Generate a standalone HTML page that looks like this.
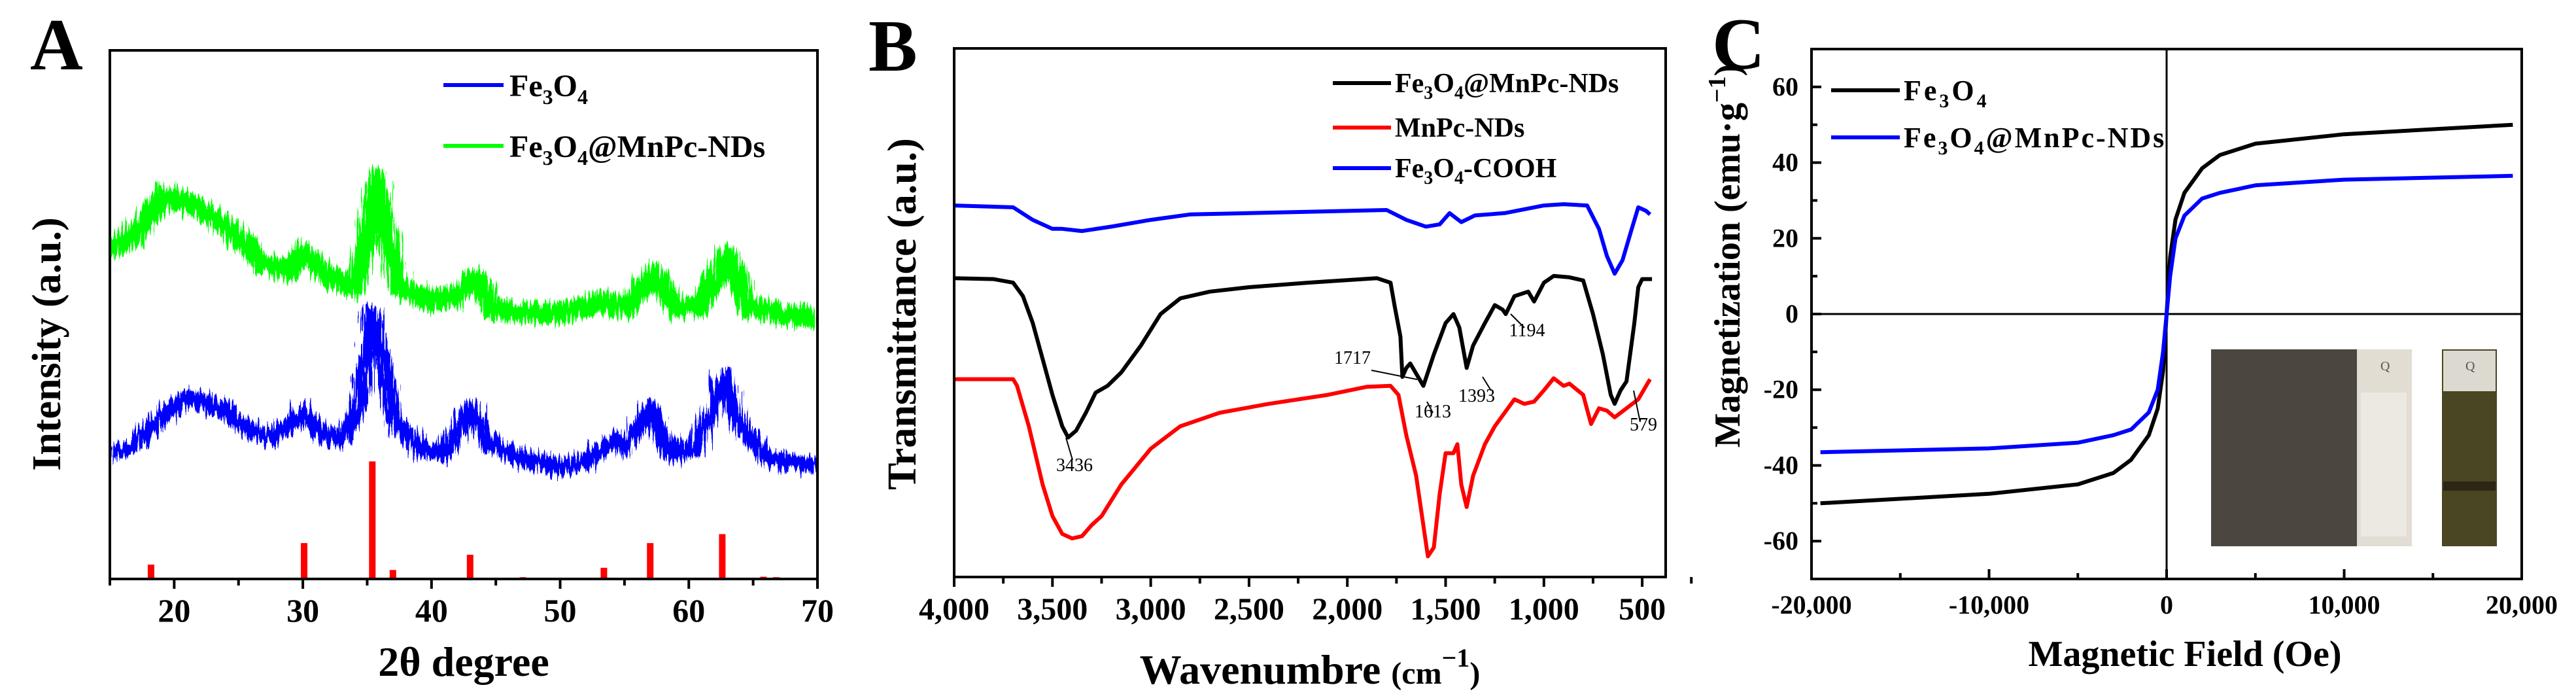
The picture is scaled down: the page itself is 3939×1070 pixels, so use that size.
<!DOCTYPE html>
<html><head><meta charset="utf-8"><style>
html,body{margin:0;padding:0;background:#fff;}
svg{display:block;font-family:"Liberation Serif",serif;font-weight:bold;}
</style></head><body>
<svg id="fig" width="3939" height="1070" viewBox="0 0 3939 1070" xmlns="http://www.w3.org/2000/svg">
<defs>
<filter id="noisy" x="-5%" y="-20%" width="110%" height="140%">
<feTurbulence type="fractalNoise" baseFrequency="0.35 0.02" numOctaves="2" seed="3" result="n"/>
<feDisplacementMap in="SourceGraphic" in2="n" scale="40" xChannelSelector="R" yChannelSelector="G"/>
</filter>
</defs>
<rect width="3939" height="1070" fill="#fff"/>
<g>
<text x="46" y="106" font-size="112">A</text>
<text transform="translate(92,526) rotate(-90)" text-anchor="middle" font-size="62">Intensity (a.u.)</text>
<text x="709" y="1033" text-anchor="middle" font-size="64">2θ degree</text>
<line x1="678" y1="130" x2="770" y2="130" stroke="#0000ff" stroke-width="6"/>
<text x="779" y="147" font-size="48">Fe<tspan font-size="32" dy="12">3</tspan><tspan dy="-12">O</tspan><tspan font-size="32" dy="12">4</tspan></text>
<line x1="678" y1="223" x2="770" y2="223" stroke="#00ff00" stroke-width="6"/>
<text x="779" y="240" font-size="48">Fe<tspan font-size="32" dy="12">3</tspan><tspan dy="-12">O</tspan><tspan font-size="32" dy="12">4</tspan><tspan dy="-12">@MnPc-NDs</tspan></text>
</g>
<g>
<text x="1328" y="108" font-size="112">B</text>
<text transform="translate(1400,480) rotate(-90)" text-anchor="middle" font-size="62">Transmittance (a.u.)</text>
<text x="2003" y="1045" text-anchor="middle" font-size="64">Wavenumbre <tspan font-size="48">(cm</tspan><tspan font-size="40" dy="-26">−1</tspan><tspan font-size="48" dy="26">)</tspan></text>
<line x1="2038" y1="127" x2="2127" y2="127" stroke="#000" stroke-width="6"/>
<text x="2133" y="141" font-size="42">Fe<tspan font-size="28" dy="10">3</tspan><tspan dy="-10">O</tspan><tspan font-size="28" dy="10">4</tspan><tspan dy="-10">@MnPc-NDs</tspan></text>
<line x1="2038" y1="195" x2="2127" y2="195" stroke="#ff0000" stroke-width="6"/>
<text x="2133" y="209" font-size="42">MnPc-NDs</text>
<line x1="2038" y1="257" x2="2127" y2="257" stroke="#0000ff" stroke-width="6"/>
<text x="2133" y="271" font-size="42">Fe<tspan font-size="28" dy="10">3</tspan><tspan dy="-10">O</tspan><tspan font-size="28" dy="10">4</tspan><tspan dy="-10">-COOH</tspan></text>
</g>
<g>
<text x="2618" y="105" font-size="112">C</text>
<text transform="translate(2660,391) rotate(-90)" text-anchor="middle" font-size="56">Magnetization (emu·g<tspan font-size="38" dy="-22">−1</tspan><tspan dy="22">)</tspan></text>
<text x="3341" y="1018" text-anchor="middle" font-size="56">Magnetic Field (Oe)</text>
<g>
<rect x="3381" y="534" width="223" height="301" fill="#4b4640"/>
<rect x="3604" y="534" width="84" height="301" fill="#e2ddd3"/>
<rect x="3610" y="600" width="70" height="220" fill="#ebe9e2"/>
<rect x="3734" y="534" width="84" height="301" fill="#4a4522"/>
<rect x="3736" y="536" width="80" height="62" fill="#dcd9d0"/>
<rect x="3736" y="736" width="80" height="14" fill="#2a2714"/>
<text x="3640" y="566" font-size="20" font-weight="normal" fill="#555">Q</text>
<text x="3770" y="566" font-size="20" font-weight="normal" fill="#555">Q</text>
</g>
<line x1="2800" y1="138" x2="2905" y2="138" stroke="#000" stroke-width="6"/>
<text x="2911" y="153" font-size="44" letter-spacing="4">Fe<tspan font-size="30" dy="11">3</tspan><tspan dy="-11">O</tspan><tspan font-size="30" dy="11">4</tspan></text>
<line x1="2800" y1="210" x2="2905" y2="210" stroke="#0000ff" stroke-width="6"/>
<text x="2911" y="225" font-size="44" letter-spacing="3">Fe<tspan font-size="30" dy="11">3</tspan><tspan dy="-11">O</tspan><tspan font-size="30" dy="11">4</tspan><tspan dy="-11">@MnPc-NDs</tspan></text>
</g>
</svg>
<script>
// ---------- Panel A data (XRD) ----------
const aGreenX = [15,17,19,21,23,25,27,29,30,32,34,35,35.8,36.5,37.5,40,42,43.3,45,50,53.5,55,57.3,59,61,63,64.5,67,70];
const aGreenY = [1040,1080,1160,1150,1120,1070,1010,1000,1040,980,960,1080,1200,1080,960,930,940,980,910,900,930,910,990,910,920,1030,920,900,890];
const aBlueX = [15,17,19,21,23,25,27,29,30,31,33,34.5,35.3,36,37,39,41,43,44.5,47,50,52,54,55,57,58.5,60.5,62.8,64,66,70];
const aBlueY = [590,610,670,715,700,660,625,650,685,645,620,700,900,840,670,600,590,690,610,580,560,570,620,600,690,590,600,760,650,580,560];
const aRefPos = [18.2,30.1,35.4,37.0,43.0,47.1,53.4,57.0,62.6,65.8,66.8];
const aRefH = [32,80,262,20,54,4,25,80,100,5,4];
const aXTicks = [20,30,40,50,60,70];
// ---------- Panel B data (FTIR) ----------
const bBlueX = [4000,3700,3600,3500,3450,3350,3200,3000,2800,2500,2000,1800,1700,1600,1530,1480,1420,1350,1200,1000,900,780,720,680,640,600,560,520,480,460];
const bBlueT = [1142,1138,1110,1090,1090,1085,1095,1110,1122,1125,1130,1132,1110,1095,1100,1125,1105,1120,1125,1142,1145,1142,1090,1030,990,1020,1080,1138,1130,1122];
const bBlackX = [4000,3800,3700,3650,3600,3550,3500,3450,3420,3380,3330,3280,3220,3150,3050,2950,2850,2700,2500,2200,1850,1780,1760,1730,1720,1700,1680,1613,1560,1500,1460,1430,1393,1360,1300,1250,1210,1194,1150,1080,1050,1000,950,870,800,750,700,660,640,610,580,540,520,500,450];
const bBlackT = [980,978,970,940,880,800,720,650,625,640,680,725,740,770,830,900,935,950,960,970,980,970,920,850,760,780,790,740,810,880,900,870,780,830,880,920,910,900,940,950,928,970,985,982,975,900,810,720,700,730,750,880,960,978,978];
const bRedX = [4000,3700,3680,3620,3550,3500,3450,3400,3350,3300,3250,3150,3000,2850,2650,2400,2100,1900,1780,1740,1700,1650,1620,1590,1560,1530,1500,1460,1440,1420,1393,1360,1300,1250,1200,1150,1100,1050,1000,950,900,870,800,760,720,680,640,580,520,460];
const bRedT = [755,755,740,650,520,450,410,400,405,430,450,520,600,650,680,700,720,738,740,720,630,540,450,360,380,500,590,590,610,520,470,540,610,650,680,710,700,705,730,757,740,745,720,655,690,685,670,690,710,755];
const bAnnot = ["3436","1717","1613","1393","1194","579"];
const bXTicks = [4000,3500,3000,2500,2000,1500,1000,500];
// ---------- Panel C data (VSM) ----------
const cFeH = [-19500,-10000,-5000,-3000,-2000,-1000,-500,-200,0,200,500,1000,2000,3000,5000,10000,19500];
const cFeM = [-50,-47.5,-45,-42,-38.5,-32,-25,-15,0,15,25,32,38.5,42,45,47.5,50];
const cMnH = [-19500,-10000,-5000,-3000,-2000,-1000,-500,-200,0,200,500,1000,2000,3000,5000,10000,19500];
const cMnM = [-36.5,-35.5,-34,-32,-30.5,-26,-20,-10,0,10,20,26,30.5,32,34,35.5,36.5];
const cXTicks = [-20000,-10000,0,10000,20000];
const cXTickLabels = ["-20,000","-10,000","0","10,000","20,000"];
const cYTicks = [60,40,20,0,-20,-40,-60];

const NS = "http://www.w3.org/2000/svg";
const svg = document.getElementById('fig');
function mk(tag, attrs, parent){const e=document.createElementNS(NS,tag);for(const k in attrs)e.setAttribute(k,attrs[k]);(parent||svg).appendChild(e);return e;}
function pathD(xs,ys,fx,fy){return xs.map((x,i)=>(i?'L':'M')+fx(x).toFixed(1)+','+fy(ys[i]).toFixed(1)).join(' ');}

// ===== Panel A =====
const axA = x => 168 + (x-15)*(1250-168)/55;
const ayA = v => (1600 - v)/1.458;
const ayBar = h => 885 - h/1.458;
let e;
const clipA = mk('clipPath',{id:'clipA'});
mk('rect',{x:168,y:77,width:1082,height:808},clipA);
e = mk('path',{d:pathD(aGreenX,aGreenY,axA,ayA),fill:'none',stroke:'#00ff00','stroke-width':30,'stroke-linejoin':'round',filter:'url(#noisy)','clip-path':'url(#clipA)'});


e = mk('path',{d:pathD(aBlueX,aBlueY,axA,ayA),fill:'none',stroke:'#0000ff','stroke-width':24,'stroke-linejoin':'round',filter:'url(#noisy)','clip-path':'url(#clipA)'});


aRefPos.forEach((p,i)=>{
  const b = mk('rect',{x:axA(p)-5,y:ayBar(aRefH[i]),width:10,height:885-ayBar(aRefH[i]),fill:'#ff0000'});
  
  
});
e = mk('rect',{x:168,y:77,width:1082,height:808,fill:'none',stroke:'#000','stroke-width':4});


aXTicks.forEach(t=>{
  mk('line',{x1:axA(t),y1:885,x2:axA(t),y2:900,stroke:'#000','stroke-width':4});
  mk('line',{x1:axA(t-5),y1:885,x2:axA(t-5),y2:895,stroke:'#000','stroke-width':4});
  const l = mk('text',{x:axA(t),y:950,'text-anchor':'middle','font-size':50});
  l.textContent = t;
  
  
});

// ===== Panel B =====
const axB = w => 1459 + (4000-w)*0.3006;
const ayB = t => (1600 - t)/1.458;
[[bBlueX,bBlueT,'#0000ff','b-series-fe3o4-cooh'],[bBlackX,bBlackT,'#000','b-series-fe3o4-mnpc'],[bRedX,bRedT,'#ff0000','b-series-mnpc']].forEach(s=>{
  const p = mk('path',{d:pathD(s[0],s[1],axB,ayB),fill:'none',stroke:s[2],'stroke-width':6,'stroke-linejoin':'round'});
  
  
});
const bAnnotPos = [[1643,720,1630,669,1640,703],[2068,556,2097,566,2167,580],[2191,638,2182,614,2191,631],[2258,614,2267,576,2280,597],[2335,514,2310,480,2331,501],[2513,658,2498,597,2508,645]];
bAnnot.forEach((a,i)=>{
  const q = bAnnotPos[i];
  mk('line',{x1:q[2],y1:q[3],x2:q[4],y2:q[5],stroke:'#000','stroke-width':2});
  const t = mk('text',{x:q[0],y:q[1],'text-anchor':'middle','font-size':28,'font-weight':'normal'});
  t.textContent = a;
  
  
});
e = mk('rect',{x:1459,y:74,width:1088,height:808,fill:'none',stroke:'#000','stroke-width':4});


bXTicks.forEach(t=>{
  mk('line',{x1:axB(t),y1:882,x2:axB(t),y2:897,stroke:'#000','stroke-width':4});
  mk('line',{x1:axB(t-250),y1:882,x2:axB(t-250),y2:892,stroke:'#000','stroke-width':4});
  const l = mk('text',{x:axB(t),y:947,'text-anchor':'middle','font-size':48});
  l.textContent = t.toLocaleString('en-US');
  
  
});

// ===== Panel C =====
const axC = h => 2770 + (h+20000)*(1086/40000);
const ayC = m => 480 - m*5.786;
mk('line',{x1:2770,y1:ayC(0),x2:3856,y2:ayC(0),stroke:'#000','stroke-width':3});
mk('line',{x1:axC(0),y1:75,x2:axC(0),y2:885,stroke:'#000','stroke-width':3});
e = mk('path',{d:pathD(cFeH,cFeM,axC,ayC),fill:'none',stroke:'#000','stroke-width':6,'stroke-linejoin':'round'});


e = mk('path',{d:pathD(cMnH,cMnM,axC,ayC),fill:'none',stroke:'#0000ff','stroke-width':6,'stroke-linejoin':'round'});


e = mk('rect',{x:2770,y:75,width:1086,height:810,fill:'none',stroke:'#000','stroke-width':4});


cXTicks.forEach((t,i)=>{
  mk('line',{x1:axC(t),y1:885,x2:axC(t),y2:870,stroke:'#000','stroke-width':4});
  if(t<20000) mk('line',{x1:axC(t+5000),y1:885,x2:axC(t+5000),y2:876,stroke:'#000','stroke-width':4});
  const l = mk('text',{x:axC(t),y:938,'text-anchor':'middle','font-size':40});
  l.textContent = cXTickLabels[i];
  
  
});
cYTicks.forEach(t=>{
  mk('line',{x1:2770,y1:ayC(t),x2:2785,y2:ayC(t),stroke:'#000','stroke-width':4});
  if(t>-60) mk('line',{x1:2770,y1:ayC(t-10),x2:2779,y2:ayC(t-10),stroke:'#000','stroke-width':4});
  const l = mk('text',{x:2750,y:ayC(t)+13,'text-anchor':'end','font-size':40});
  l.textContent = t;
  
  
});
</script>
</body></html>
